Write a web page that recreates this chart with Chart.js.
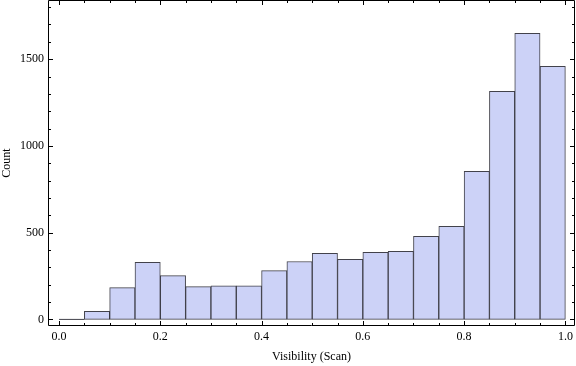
<!DOCTYPE html>
<html>
<head>
<meta charset="utf-8">
<script src="https://cdn.jsdelivr.net/npm/chart.js@4.4.0/dist/chart.umd.min.js"></script>
<style>
html,body{margin:0;padding:0;background:#fff;}
#wrap{width:576px;height:366px;}
</style>
</head>
<body>
<div id="wrap"><canvas id="c" width="576" height="366"></canvas></div>
<script>
const binStarts = [0.00,0.05,0.10,0.15,0.20,0.25,0.30,0.35,0.40,0.45,0.50,0.55,0.60,0.65,0.70,0.75,0.80,0.85,0.90,0.95];
const counts    = [0,46,183,329,252,189,194,194,281,334,381,346,386,392,479,536,853,1315,1649,1459];
const binWidth = 0.05;
const xMajorTicks = [0,0.2,0.4,0.6,0.8,1.0];
const xMinorTicks = [0.05,0.1,0.15,0.25,0.3,0.35,0.45,0.5,0.55,0.65,0.7,0.75,0.85,0.9,0.95];
const yMajorTicks = [0,500,1000,1500];
const yMinorTicks = [100,200,300,400,600,700,800,900,1100,1200,1300,1400,1600,1700,1800];
const xLabel = 'Visibility (Scan)';
const yLabel = 'Count';

const FONT = {family:'"Liberation Serif","Times New Roman",serif', size:12};

const barData = [];
const zeroData = [];
binStarts.forEach((s,i)=>{
  if(counts[i] > 0) barData.push({x:s+binWidth/2, y:counts[i]});
  else { zeroData.push({x:s,y:0}); zeroData.push({x:s+binWidth,y:0}); }
});

const framePlugin = {
  id:'frame',
  afterDatasetsDraw(chart){
    const ctx = chart.ctx, a = chart.chartArea;
    const xs = chart.scales.x, ys = chart.scales.y;
    ctx.save();
    ctx.strokeStyle = '#000';
    ctx.lineWidth = 1;
    const L = Math.round(a.left)+0.5, R = Math.round(a.right)-0.5, T = Math.round(a.top)+0.5, B = Math.round(a.bottom)-0.5;
    ctx.beginPath();
    ctx.rect(L, T, R-L, B-T);
    ctx.stroke();
    ctx.beginPath();
    const xt = (v,len)=>{
      const p = Math.round(xs.getPixelForValue(v))+0.5;
      ctx.moveTo(p,B); ctx.lineTo(p,B-len);
      ctx.moveTo(p,T); ctx.lineTo(p,T+len);
    };
    const yt = (v,len)=>{
      const p = Math.round(ys.getPixelForValue(v))+0.5;
      ctx.moveTo(L,p); ctx.lineTo(L+len,p);
      ctx.moveTo(R,p); ctx.lineTo(R-len,p);
    };
    xMajorTicks.forEach(v=>xt(v,4.5));
    xMinorTicks.forEach(v=>xt(v,2.5));
    yMajorTicks.forEach(v=>yt(v,4.5));
    yMinorTicks.forEach(v=>yt(v,2.5));
    ctx.stroke();
    ctx.restore();
  }
};

const zeroPad = s => { s.paddingTop = 0; s.paddingBottom = 0; s.paddingLeft = 0; s.paddingRight = 0; };

new Chart(document.getElementById('c'), {
  type:'bar',
  data:{
    datasets:[
      {
        type:'bar',
        data: barData,
        backgroundColor:'rgb(204,210,247)',
        borderColor:'rgba(45,45,55,0.9)',
        borderWidth:1,
        borderSkipped:false,
        barPercentage:1,
        categoryPercentage:1,
        grouped:false
      },
      {
        type:'line',
        data: zeroData,
        borderColor:'rgba(45,45,55,0.9)',
        borderWidth:1,
        pointRadius:0,
        fill:false
      }
    ]
  },
  options:{
    responsive:false,
    animation:false,
    events:[],
    layout:{padding:{top:0,right:1,bottom:0,left:0}},
    plugins:{legend:{display:false},tooltip:{enabled:false}},
    scales:{
      x:{
        type:'linear',
        min:-0.0218, max:1.019,
        offset:false,
        grid:{display:false,drawTicks:false},
        border:{display:false},
        afterBuildTicks(s){ s.ticks = xMajorTicks.map(v=>({value:v})); },
        afterFit(s){ s.height = 40; zeroPad(s); },
        ticks:{color:'#000',font:FONT,padding:4,maxRotation:0,autoSkip:false,
          callback:(v)=>Number(v).toFixed(1)},
        title:{display:true,text:xLabel,color:'#000',font:FONT,padding:{top:4,bottom:2}}
      },
      y:{
        type:'linear',
        min:-38, max:1841,
        grid:{display:false,drawTicks:false},
        border:{display:false},
        afterBuildTicks(s){ s.ticks = yMajorTicks.map(v=>({value:v})); },
        afterFit(s){ s.width = 48; zeroPad(s); },
        ticks:{color:'#000',font:FONT,padding:4,autoSkip:false,callback:(v)=>String(v)},
        title:{display:true,text:yLabel,color:'#000',font:FONT,padding:{top:0,bottom:0}}
      }
    }
  },
  plugins:[framePlugin]
});
</script>
</body>
</html>
